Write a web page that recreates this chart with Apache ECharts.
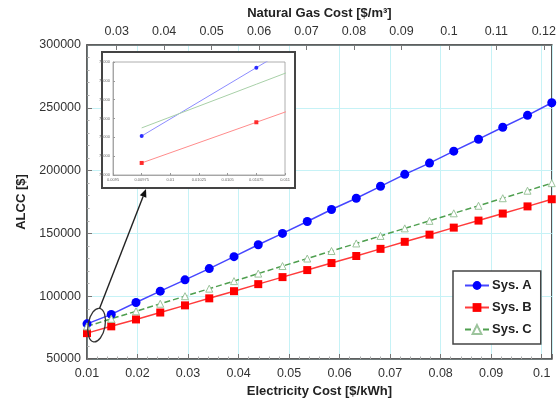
<!DOCTYPE html>
<html>
<head>
<meta charset="utf-8">
<script src="https://cdn.jsdelivr.net/npm/echarts@6/dist/echarts.min.js"></script>
<style>
  html, body { margin: 0; padding: 0; background: #fff; }
  #chart { width: 559px; height: 403px; }
</style>
</head>
<body>
<div id="chart"></div>
<script>
// Electricity cost samples [$/kWh]
const elecCost = [0.01, 0.0148, 0.0197, 0.0245, 0.0294, 0.0342, 0.0391, 0.0439, 0.0487, 0.0536,
                  0.0584, 0.0633, 0.0681, 0.0729, 0.0778, 0.0826, 0.0875, 0.0923, 0.0972, 0.102];
// Annualised life-cycle cost of each system [$]
const sysA = [78000, 85500, 95000, 104000, 113000, 122000, 131500, 141000, 150000, 159500,
              169000, 178000, 187500, 197000, 206000, 215500, 225000, 234500, 244000, 254000];
const sysB = [70600, 76000, 81500, 87000, 92700, 98300, 104000, 109600, 115200, 120800,
              126400, 132000, 137700, 143300, 149000, 154600, 160200, 165800, 171500, 177200];
const sysC = [76000, 82000, 88000, 94000, 100000, 106000, 112000, 118000, 124000, 130000,
              136000, 142000, 148000, 154000, 160000, 166000, 172000, 178000, 184000, 190000];
const seriesNames = ['Sys. A', 'Sys. B', 'Sys. C'];

// Secondary (top) axis: natural gas cost tick labels [$/m3]
const gasTicks = [0.03, 0.04, 0.05, 0.06, 0.07, 0.08, 0.09, 0.1, 0.11, 0.12];

// Close-up of the low-cost corner
const insetX = [0.00975, 0.01075, 0.01175];
const insetA = [74070, 77700, 81330];
const insetB = [72640, 74800, 76960];
const insetC = [74500, 76820, 79140];

const FONT = "'Liberation Sans', Arial, Helvetica, sans-serif";
const zip = (xs, ys) => xs.map((x, i) => [x, ys[i]]);
const plain = v => String(v);

const chart = echarts.init(document.getElementById('chart'), null, { renderer: 'canvas' });

const axisLine = { show: true, onZero: false, lineStyle: { color: '#555', width: 1.5 } };
const labelStyle = { color: '#333', fontSize: 12.5, fontFamily: FONT };
const nameStyle = { color: '#222', fontSize: 13, fontWeight: 'bold', fontFamily: FONT };
const gridLine = { show: true, lineStyle: { color: '#c6f2f6', width: 1 } };

const option = {
  animation: false,
  backgroundColor: '#fff',
  textStyle: { fontFamily: FONT },
  grid: [
    { left: 87, right: 2, top: 45, bottom: 42, show: true, borderColor: '#555', borderWidth: 1.5 },
    { left: 113, top: 62, width: 172, height: 113, show: true, borderColor: '#999', borderWidth: 0.8, z: 20 }
  ],
  xAxis: [
    {
      type: 'value', gridIndex: 0, position: 'bottom',
      min: 0.01, max: 0.102, interval: 0.01,
      axisLine,
      axisTick: { inside: true, length: 5, lineStyle: { color: '#777' } },
      minorTick: { show: true, splitNumber: 5, length: 2.5, lineStyle: { color: '#aaa' } },
      axisLabel: Object.assign({ margin: 8, showMaxLabel: false }, labelStyle),
      splitLine: gridLine,
      name: 'Electricity Cost [$/kWh]', nameLocation: 'middle', nameGap: 26, nameTextStyle: nameStyle
    },
    {
      type: 'value', gridIndex: 0, position: 'top',
      min: 0.02375, max: 0.12167,
      axisLine,
      axisTick: { inside: true, length: 5, lineStyle: { color: '#777' }, customValues: gasTicks },
      axisLabel: Object.assign({ margin: 7, customValues: gasTicks }, labelStyle),
      splitLine: { show: false },
      name: 'Natural Gas Cost [$/m³]', nameLocation: 'middle', nameGap: 24, nameTextStyle: nameStyle
    },
    {
      type: 'value', gridIndex: 1, min: 0.0095, max: 0.011, interval: 0.00025, z: 20,
      axisLine: { show: true, onZero: false, lineStyle: { color: '#999', width: 0.8 } },
      axisTick: { inside: true, length: 2, lineStyle: { color: '#999' } },
      axisLabel: { fontSize: 4, color: '#666', margin: 3 },
      splitLine: { show: false }
    }
  ],
  yAxis: [
    {
      type: 'value', gridIndex: 0, min: 50000, max: 300000, interval: 50000,
      axisLine,
      axisTick: { inside: true, length: 5, lineStyle: { color: '#777' } },
      minorTick: { show: true, splitNumber: 5, length: 2.5, lineStyle: { color: '#aaa' } },
      axisLabel: Object.assign({ margin: 6, formatter: plain }, labelStyle),
      splitLine: gridLine,
      name: 'ALCC [$]', nameLocation: 'middle', nameGap: 44, nameTextStyle: nameStyle
    },
    {
      type: 'value', gridIndex: 1, min: 72000, max: 78000, interval: 1000, z: 20,
      axisLine: { show: true, onZero: false, lineStyle: { color: '#999', width: 0.8 } },
      axisTick: { inside: true, length: 2, lineStyle: { color: '#999' } },
      axisLabel: { fontSize: 4, color: '#666', margin: 3, formatter: plain },
      splitLine: { show: false }
    }
  ],
  legend: {
    data: seriesNames,
    orient: 'vertical',
    left: 453, top: 271,
    padding: [8, 9, 8, 11],
    itemGap: 9,
    itemWidth: 24, itemHeight: 11,
    backgroundColor: '#fff',
    borderColor: '#444', borderWidth: 1.5,
    textStyle: { fontSize: 13, fontWeight: 'bold', color: '#222', fontFamily: FONT, padding: [0, 0, 0, -2] },
    z: 40
  },
  series: [
    {
      name: seriesNames[0], type: 'line', xAxisIndex: 0, yAxisIndex: 0,
      data: zip(elecCost, sysA),
      symbol: 'circle', symbolSize: 9,
      lineStyle: { color: '#4646ff', width: 1.5 },
      itemStyle: { color: '#0000ff' }
    },
    {
      name: seriesNames[1], type: 'line', xAxisIndex: 0, yAxisIndex: 0,
      data: zip(elecCost, sysB),
      symbol: 'rect', symbolSize: 8,
      lineStyle: { color: '#ff3b3b', width: 1.5 },
      itemStyle: { color: '#ff0000' }
    },
    {
      name: seriesNames[2], type: 'line', xAxisIndex: 0, yAxisIndex: 0,
      data: zip(elecCost, sysC),
      symbol: 'triangle', symbolSize: 7,
      lineStyle: { color: '#4f9f4f', width: 1.5, type: [6, 3] },
      itemStyle: { color: '#ffffff', borderColor: '#9cc49c', borderWidth: 1 }
    },
    {
      name: 'inset A', type: 'line', xAxisIndex: 2, yAxisIndex: 1, z: 30,
      data: zip(insetX, insetA), clip: true,
      symbol: 'circle', symbolSize: 4,
      lineStyle: { color: '#8c8cff', width: 1 },
      itemStyle: { color: '#2a2aff' }
    },
    {
      name: 'inset B', type: 'line', xAxisIndex: 2, yAxisIndex: 1, z: 30,
      data: zip(insetX, insetB), clip: true,
      symbol: 'rect', symbolSize: 4,
      lineStyle: { color: '#ff8c8c', width: 1 },
      itemStyle: { color: '#ff2a2a' }
    },
    {
      name: 'inset C', type: 'line', xAxisIndex: 2, yAxisIndex: 1, z: 30,
      data: zip(insetX, insetC), clip: true,
      showSymbol: false,
      lineStyle: { color: '#a8d0a8', width: 1 }
    }
  ]
};

chart.setOption(option);

// Inset frame, the ellipse marking the zoomed corner, and the arrow linking them
const c = chart.convertToPixel({ xAxisIndex: 0, yAxisIndex: 0 }, [0.0119, 77000]);
const tilt = 0.18;
const ry = 17, rx = 8.5;
const start = [c[0] + ry * Math.sin(tilt), c[1] - ry * Math.cos(tilt)];
const tip = [146, 189];
const ang = Math.atan2(tip[1] - start[1], tip[0] - start[0]);
const headLen = 8, headHalf = 3.5;
const baseX = tip[0] - headLen * Math.cos(ang), baseY = tip[1] - headLen * Math.sin(ang);
const nx = -Math.sin(ang), ny = Math.cos(ang);

chart.setOption({
  graphic: [
    {
      type: 'rect', z: 10,
      shape: { x: 102, y: 52, width: 193, height: 136 },
      style: { fill: '#fff', stroke: '#444', lineWidth: 2 }
    },
    {
      type: 'ellipse', z: 35,
      x: c[0], y: c[1], rotation: -tilt,
      shape: { cx: 0, cy: 0, rx: rx, ry: ry },
      style: { fill: 'none', stroke: '#333', lineWidth: 1.3 }
    },
    {
      type: 'line', z: 35,
      shape: { x1: start[0], y1: start[1], x2: baseX, y2: baseY },
      style: { stroke: '#222', lineWidth: 1.4 }
    },
    {
      type: 'polygon', z: 35,
      shape: { points: [tip, [baseX + nx * headHalf, baseY + ny * headHalf], [baseX - nx * headHalf, baseY - ny * headHalf]] },
      style: { fill: '#111' }
    }
  ]
});
</script>
</body>
</html>
